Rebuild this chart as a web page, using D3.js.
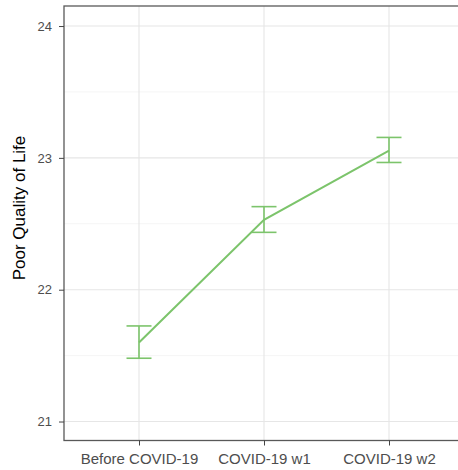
<!DOCTYPE html>
<html><head><meta charset="utf-8">
<script src="https://cdn.jsdelivr.net/npm/d3@7"></script>
<style>body{margin:0;background:#fff;} svg{display:block;font-family:"Liberation Sans",Arial,Helvetica,sans-serif;}</style>
</head><body>
<script>
const categories = ["Before COVID-19", "COVID-19 w1", "COVID-19 w2"];
const means = [21.6, 22.53, 23.055];
const lower = [21.48, 22.435, 22.965];
const upper = [21.725, 22.63, 23.155];
const yTicks = [21, 22, 23, 24];
const yMinor = [21.5, 22.5, 23.5];
const yTitle = "Poor Quality of Life";

const W = 458, H = 470;
const pLeft = 64, pTop = 6, pRight = 464, pBottom = 440.5;
const svg = d3.select("body").append("svg").attr("width", W).attr("height", H);

const x = d3.scalePoint().domain(categories).range([pLeft, pRight]).padding(0.6);
const y = d3.scaleLinear().domain([20.856, 24.152]).range([pBottom, pTop]);
const step = x.step();

const grid = svg.append("g");
grid.selectAll(".minor").data(yMinor).join("line")
  .attr("x1", pLeft).attr("x2", pRight).attr("y1", d => y(d)).attr("y2", d => y(d))
  .attr("stroke", "#f2f2f2").attr("stroke-width", 0.8);
grid.selectAll(".majy").data(yTicks).join("line")
  .attr("x1", pLeft).attr("x2", pRight).attr("y1", d => y(d)).attr("y2", d => y(d))
  .attr("stroke", "#e6e6e6").attr("stroke-width", 1.1);
grid.selectAll(".majx").data(categories).join("line")
  .attr("y1", pTop).attr("y2", pBottom).attr("x1", d => x(d)).attr("x2", d => x(d))
  .attr("stroke", "#e6e6e6").attr("stroke-width", 1.1);

const color = "#7cc46b";
const pts = categories.map((c, i) => ({c, m: means[i], lo: lower[i], hi: upper[i]}));
svg.append("path").datum(pts)
  .attr("d", d3.line().x(d => x(d.c)).y(d => y(d.m)))
  .attr("fill", "none").attr("stroke", color).attr("stroke-width", 2);
const eb = svg.append("g").attr("stroke", color).attr("stroke-width", 1.6).attr("fill", "none");
pts.forEach(d => {
  const cx = x(d.c), hw = step * 0.1;
  eb.append("line").attr("x1", cx).attr("x2", cx).attr("y1", y(d.lo)).attr("y2", y(d.hi));
  eb.append("line").attr("x1", cx - hw).attr("x2", cx + hw).attr("y1", y(d.lo)).attr("y2", y(d.lo));
  eb.append("line").attr("x1", cx - hw).attr("x2", cx + hw).attr("y1", y(d.hi)).attr("y2", y(d.hi));
});

// panel border
svg.append("rect").attr("x", pLeft).attr("y", pTop).attr("width", pRight - pLeft).attr("height", pBottom - pTop)
  .attr("fill", "none").attr("stroke", "#595959").attr("stroke-width", 1.3);

const yAxis = svg.append("g").attr("transform", `translate(${pLeft},0)`)
  .call(d3.axisLeft(y).tickValues(yTicks).tickSize(5).tickPadding(7).tickFormat(d3.format("d")));
yAxis.select(".domain").remove();
yAxis.selectAll("line").attr("stroke", "#444");
yAxis.selectAll("text").attr("fill", "#4d4d4d").style("font-size", "13px")
  .style("font-family", "'Liberation Sans',Arial,sans-serif");

const xAxis = svg.append("g").attr("transform", `translate(0,${pBottom})`)
  .call(d3.axisBottom(x).tickSize(5).tickPadding(0));
xAxis.select(".domain").remove();
xAxis.selectAll("line").attr("stroke", "#444");
xAxis.selectAll("text").attr("fill", "#4d4d4d").style("font-size", "15px")
  .attr("dy", null).attr("y", 23.5)
  .style("font-family", "'Liberation Sans',Arial,sans-serif");

svg.append("text").text(yTitle)
  .attr("transform", `translate(25,208) rotate(-90)`)
  .attr("text-anchor", "middle").attr("fill", "#000")
  .style("font-size", "17px");
</script>
</body></html>
